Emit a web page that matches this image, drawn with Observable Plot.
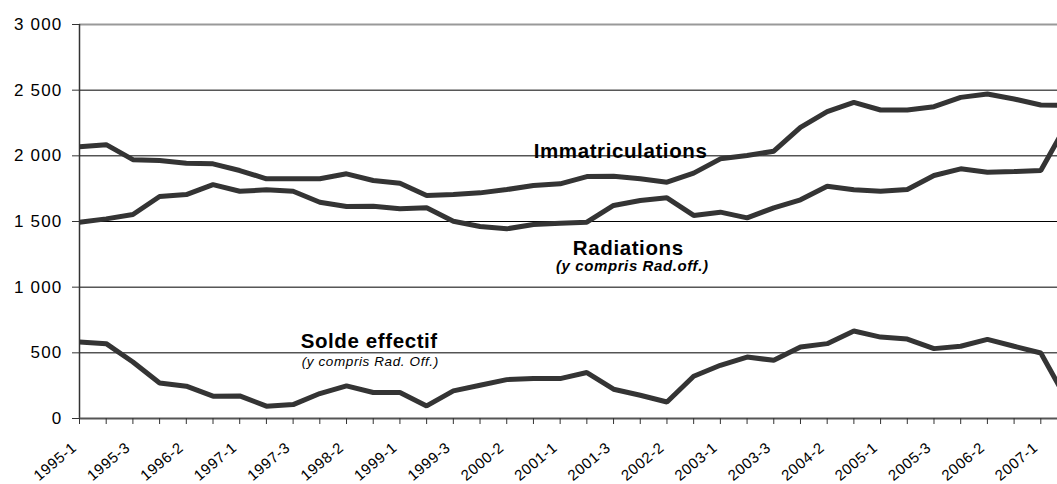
<!DOCTYPE html>
<html>
<head>
<meta charset="utf-8">
<script src="https://cdn.jsdelivr.net/npm/d3@7"></script>
<script src="https://cdn.jsdelivr.net/npm/@observablehq/plot@0.6"></script>
<style>
  html, body { margin: 0; padding: 0; background: #fff; }
  #wrap { width: 1057px; height: 484px; overflow: hidden; }
  #wrap svg { max-width: none !important; font-family: "Liberation Sans", Arial, sans-serif; }
</style>
</head>
<body>
<div id="wrap"></div>
<script>
const periods = [
  "1995-1","1995-2","1995-3","1996-1","1996-2","1996-3","1997-1","1997-2","1997-3",
  "1998-1","1998-2","1998-3","1999-1","1999-2","1999-3","2000-1","2000-2","2000-3",
  "2001-1","2001-2","2001-3","2002-1","2002-2","2002-3","2003-1","2003-2","2003-3",
  "2004-1","2004-2","2004-3","2005-1","2005-2","2005-3","2006-1","2006-2","2006-3",
  "2007-1","2007-2"
];
const immatriculations = [2070,2085,1971,1964,1943,1939,1888,1825,1825,1825,1863,1812,1791,1698,1705,1718,1743,1774,1787,1842,1845,1825,1799,1868,1977,2002,2035,2217,2336,2407,2349,2349,2374,2445,2471,2433,2387,2385];
const radiations = [1495,1520,1553,1690,1705,1781,1730,1741,1730,1647,1614,1616,1597,1604,1502,1462,1444,1477,1487,1495,1622,1660,1680,1546,1571,1528,1604,1665,1769,1741,1730,1743,1850,1901,1875,1880,1888,2250];
const solde = [583,570,430,271,246,170,172,94,106,190,248,198,198,96,210,253,296,304,304,350,223,177,126,322,405,468,443,544,570,666,620,605,532,550,603,550,499,132];

const yTicks = [0, 500, 1000, 1500, 2000, 2500, 3000];
const yTickLabels = ["0", "500", "1 000", "1 500", "2 000", "2 500", "3 000"];

const seriesNames = ["Immatriculations", "Radiations", "Solde effectif"];
const seriesValues = [immatriculations, radiations, solde];

const data = seriesNames.flatMap((name, s) =>
  periods.map((p, i) => ({series: name, idx: i, period: p, value: seriesValues[s][i]})));

// annotation texts, anchored to a period and a value on the chart's scales
const annoTexts   = ["Immatriculations", "Radiations", "(y compris Rad.off.)", "Solde effectif", "(y compris Rad. Off.)"];
const annoPeriods = ["2001-3", "2002-1", "2002-1", "1998-3", "1998-3"];
const annoValues  = [2037, 1292, 1156, 585, 430];

const annoStyles = [
  {dx: 7,   fontSize: 20.5, fontWeight: "bold",   fontStyle: "normal"},
  {dx: -12, fontSize: 20.5, fontWeight: "bold",   fontStyle: "normal"},
  {dx: -8,  fontSize: 15,   fontWeight: "bold",   fontStyle: "italic"},
  {dx: -4,  fontSize: 20.5, fontWeight: "bold",   fontStyle: "normal"},
  {dx: -3,  fontSize: 13.5, fontWeight: "normal", fontStyle: "italic"}
];

const lineColor = "#343434";
const idxTicks = periods.map((p, i) => i);
// every second period carries a label on the x axis
const xLabels = periods.map((p, i) => ({idx: i, label: p, value: 0})).filter(d => d.idx % 2 === 0);

const chart = Plot.plot({
  width: 1080,
  height: 484,
  marginLeft: 79,
  marginRight: 13,
  marginTop: 24,
  marginBottom: 66,
  style: {fontFamily: "'Liberation Sans', Arial, sans-serif", color: "#000", background: "#fff", maxWidth: "none"},
  x: {type: "linear", domain: [0, periods.length - 1], inset: 0},
  y: {domain: [0, 3000], inset: 0},
  marks: [
    Plot.ruleY(yTicks.filter(d => d > 0 && d < 3000), {stroke: "#000", strokeWidth: 1}),
    Plot.ruleY([3000], {stroke: "#999", strokeWidth: 2}),
    Plot.lineY(data, {x: "idx", y: "value", z: "series", stroke: lineColor, strokeWidth: 5, strokeLinejoin: "miter", strokeLinecap: "butt"}),
    Plot.ruleX([0], {y1: 0, y2: 3000, stroke: "#333", strokeWidth: 1.5}),
    Plot.ruleY([0], {stroke: "#555", strokeWidth: 2}),
    Plot.axisY({
      ticks: yTicks,
      tickSize: 7,
      tickPadding: 10,
      tickFormat: d => yTickLabels[yTicks.indexOf(d)],
      fontSize: 17,
      label: null,
      stroke: "#333"
    }),
    Plot.axisX({
      ticks: idxTicks,
      tickSize: 6,
      tickFormat: () => "",
      label: null,
      stroke: "#333"
    }),
    Plot.text(xLabels, {
      x: "idx", y: "value", text: "label", rotate: -40,
      textAnchor: "end", lineAnchor: "middle",
      dx: -5, dy: 27, fontSize: 15, fill: "#000"
    }),
    ...annoTexts.map((t, i) => Plot.text([{text: t, idx: periods.indexOf(annoPeriods[i]), value: annoValues[i]}], {
      x: "idx", y: "value", text: "text", fill: "#000", textAnchor: "middle",
      ...annoStyles[i]
    }))
  ]
});
document.getElementById("wrap").appendChild(chart);
chart.querySelectorAll("g[aria-label='y-axis tick label'] text").forEach(t => t.setAttribute("letter-spacing", "1.2"));
chart.querySelectorAll("g[aria-label='text'] text").forEach(t => t.setAttribute("letter-spacing", "0.6"));
</script>
</body>
</html>
